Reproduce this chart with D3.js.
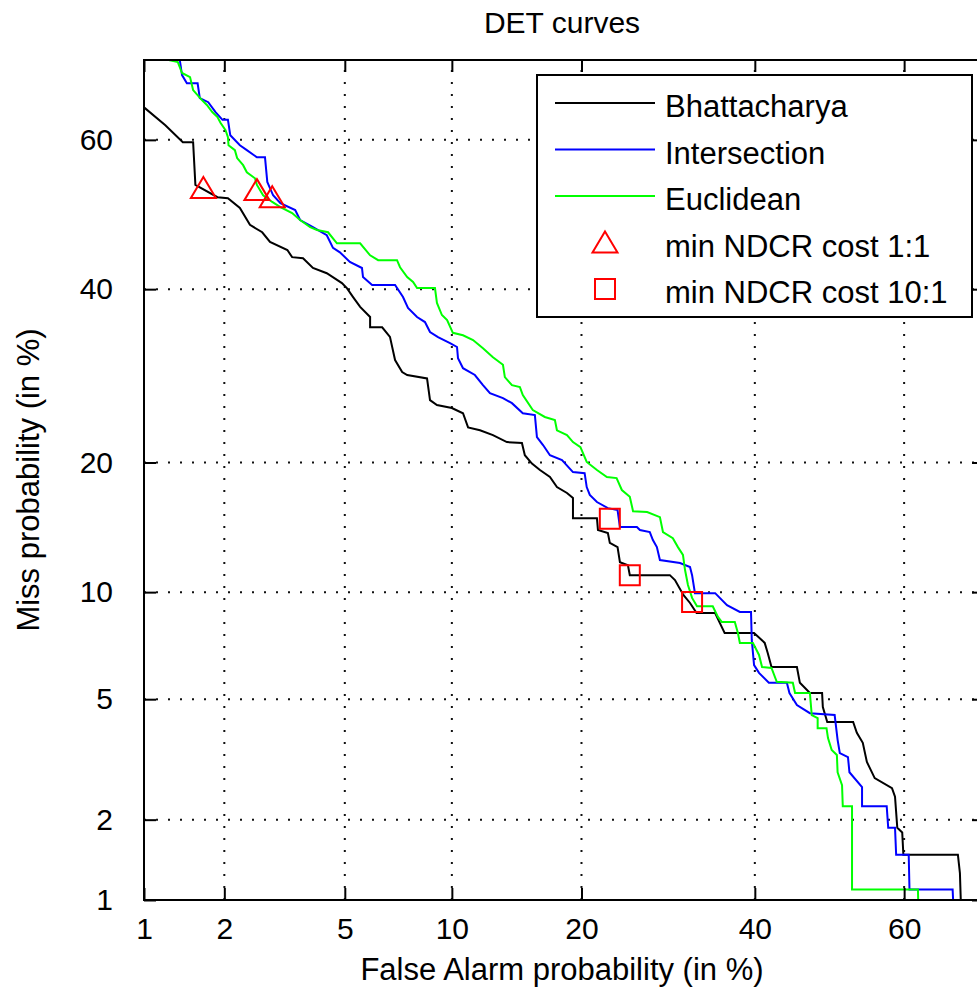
<!DOCTYPE html>
<html>
<head>
<meta charset="utf-8">
<script src="https://cdn.jsdelivr.net/npm/d3@7"></script>
<style>
  body { margin: 0; background: #fff; }
  svg { display: block; font-family: "Liberation Sans", Arial, sans-serif; }
</style>
</head>
<body>
<svg id="chart" width="977" height="992"></svg>
<script>
// Axis ticks (in %)
const xTicks = [1, 2, 5, 10, 20, 40, 60]
const yTicks = [1, 2, 5, 10, 20, 40, 60]
const axisRange = [1, 70]

// DET curves: [false alarm %, miss %]
const bhattacharya = [
  [1.00, 64.2], [1.21, 61.9], [1.41, 59.7], [1.54, 59.7], [1.57, 54.0], [1.89, 52.35], [2.06, 52.2],
  [2.27, 50.9], [2.46, 48.6], [2.71, 47.6], [2.88, 46.3], [3.29, 45.2], [3.41, 44.25], [3.70, 44.1],
  [3.98, 42.8], [4.40, 42.1], [4.90, 40.8], [5.08, 40.1], [5.29, 39.0], [5.56, 37.7], [5.95, 36.4],
  [5.95, 35.1], [6.45, 35.1], [6.79, 33.9], [7.02, 31.07], [7.35, 29.65], [7.59, 29.3], [8.60, 28.9],
  [8.76, 26.44], [9.14, 25.9], [10.0, 25.57], [10.68, 25.0], [11.0, 23.5], [11.78, 23.2], [12.67, 22.7],
  [13.68, 22.0], [14.83, 21.9], [15.06, 20.7], [15.63, 19.9], [16.29, 19.3], [17.14, 18.65], [17.75, 17.75],
  [18.65, 17.23], [19.2, 16.8], [19.2, 15.14], [21.5, 15.14], [21.6, 14.21], [22.6, 13.98], [22.8, 13.25],
  [23.6, 12.95], [23.85, 11.9], [24.7, 11.7], [24.9, 11.05], [29.4, 11.05], [30.0, 10.74], [31.0, 9.83],
  [31.8, 9.37], [32.6, 8.81], [34.9, 8.81], [35.5, 8.28], [36.1, 7.78], [39.9, 7.78], [41.3, 7.30],
  [41.7, 6.84], [42.2, 6.23], [45.6, 6.23], [46.0, 5.60], [47.35, 5.22], [49.0, 5.22], [49.1, 4.73],
  [49.7, 4.25], [53.2, 4.25], [53.7, 3.93], [54.5, 3.65], [55.05, 3.16], [56.1, 2.79], [58.4, 2.58],
  [58.8, 2.41], [59.1, 1.87], [59.75, 1.80], [59.9, 1.49], [66.85, 1.49], [67.1, 1.27], [67.3, 0.8]
]

const intersection = [
  [1.37, 72], [1.37, 70.2], [1.40, 68.2], [1.46, 67.2], [1.60, 67.2], [1.63, 65.35], [1.75, 64.85],
  [1.86, 63.6], [1.97, 62.6], [2.06, 62.6], [2.10, 60.6], [2.27, 59.3], [2.40, 58.65], [2.60, 57.7],
  [2.77, 57.7], [2.82, 54.4], [2.95, 52.6], [3.12, 51.55], [3.49, 50.6], [3.62, 49.25], [3.98, 48.3],
  [4.40, 47.2], [4.60, 45.5], [4.83, 44.9], [5.18, 43.6], [5.63, 42.8], [5.67, 41.6], [6.03, 40.55],
  [7.02, 40.55], [7.39, 38.97], [7.63, 37.55], [8.08, 36.4], [8.49, 35.76], [8.76, 34.5], [9.20, 33.87],
  [9.89, 33.13], [10.31, 32.65], [10.37, 31.3], [10.68, 30.1], [11.44, 29.3], [11.98, 28.13], [12.46, 27.22],
  [13.39, 26.66], [14.06, 26.1], [14.9, 25.0], [15.87, 24.8], [16.04, 22.5], [16.55, 21.7], [17.14, 20.7],
  [18.2, 20.23], [19.2, 19.1], [20.3, 19.0], [20.5, 17.75], [20.8, 17.06], [21.5, 16.46], [22.6, 15.95],
  [23.6, 15.79], [23.85, 14.44], [25.67, 14.44], [26.0, 14.21], [27.1, 14.06], [27.45, 13.46], [27.9, 12.95],
  [28.25, 12.05], [30.6, 11.85], [31.8, 11.58], [32.05, 11.05], [32.4, 9.94], [34.9, 9.94], [36.4, 9.25],
  [38.05, 8.87], [39.5, 8.87], [39.6, 7.44], [39.9, 6.31], [40.55, 5.99], [41.85, 5.60], [44.25, 5.60],
  [44.6, 5.22], [45.6, 4.80], [47.35, 4.53], [50.7, 4.47], [51.1, 3.73], [51.4, 3.38], [52.5, 3.28],
  [52.7, 2.92], [54.4, 2.6], [54.4, 2.23], [57.7, 2.23], [57.9, 1.87], [58.8, 1.87], [58.95, 1.49],
  [60.6, 1.49], [60.7, 1.10], [66.2, 1.10], [66.4, 0.8]
]

const euclidean = [
  [1.20, 72], [1.24, 70.0], [1.35, 69.75], [1.40, 68.45], [1.50, 67.95], [1.54, 66.36], [1.66, 65.1],
  [1.73, 64.5], [1.81, 63.6], [1.89, 62.95], [1.94, 62.2], [2.02, 61.27], [2.06, 60.35], [2.07, 59.3],
  [2.18, 58.65], [2.22, 57.6], [2.33, 56.65], [2.40, 55.7], [2.56, 54.9], [2.60, 54.0], [2.73, 52.6],
  [2.93, 51.7], [3.12, 51.0], [3.41, 50.2], [3.62, 49.25], [3.90, 48.3], [4.10, 47.9], [4.44, 47.6],
  [4.73, 46.1], [5.56, 46.1], [5.95, 44.5], [6.28, 43.85], [7.11, 43.85], [7.25, 42.9], [7.59, 41.6],
  [7.88, 40.95], [8.08, 40.15], [9.03, 40.15], [9.14, 38.2], [9.42, 36.65], [9.72, 36.0], [10.06, 34.4],
  [10.68, 34.1], [11.32, 33.5], [11.98, 32.5], [12.67, 31.4], [13.39, 30.5], [13.53, 29.05], [14.06, 28.13],
  [14.67, 27.9], [14.9, 27.0], [15.7, 25.35], [16.7, 24.6], [17.57, 24.27], [17.75, 23.2], [18.65, 22.7],
  [19.2, 22.0], [19.9, 21.5], [20.5, 20.05], [21.5, 19.29], [22.5, 18.65], [23.5, 18.55], [24.05, 17.49],
  [24.9, 16.9], [25.25, 15.7], [26.8, 15.63], [28.25, 15.22], [28.6, 14.06], [29.75, 13.6], [30.35, 12.95],
  [30.95, 12.4], [31.2, 11.38], [31.55, 10.43], [32.05, 9.66], [32.65, 9.18], [34.6, 9.18], [35.25, 8.6],
  [35.75, 8.33], [37.4, 8.33], [37.8, 7.78], [38.05, 7.30], [39.75, 7.30], [40.55, 6.75], [40.95, 6.23],
  [42.2, 6.19], [42.9, 5.64], [45.05, 5.60], [45.35, 5.22], [47.35, 5.22], [47.6, 4.47], [48.4, 4.37],
  [48.4, 4.06], [49.6, 4.06], [49.8, 3.78], [50.3, 3.46], [51.0, 3.33], [51.1, 2.92], [51.7, 2.64],
  [51.8, 2.23], [53.05, 2.23], [53.05, 1.10], [61.8, 1.10], [61.9, 0.8]
]

// min NDCR operating points
const minCost11 = [[1.68, 53.6], [2.60, 53.3], [2.93, 52.35]]
const minCost101 = [[22.8, 15.1], [24.9, 11.05], [32.05, 9.43]]

const seriesNames = ["Bhattacharya", "Intersection", "Euclidean"]
const seriesColors = ["#000000", "#0000ff", "#00ff00"]
const markerNames = ["min NDCR cost 1:1", "min NDCR cost 10:1"]

// inverse normal CDF (Acklam)
function probit(p) {
  const a = [-3.969683028665376e+01, 2.209460984245205e+02, -2.759285104469687e+02, 1.383577518672690e+02, -3.066479806614716e+01, 2.506628277459239e+00]
  const b = [-5.447609879822406e+01, 1.615858368580409e+02, -1.556989798598866e+02, 6.680131188771972e+01, -1.328068155288572e+01]
  const c = [-7.784894002430293e-03, -3.223964580411365e-01, -2.400758277161838e+00, -2.549732539343734e+00, 4.374664141464968e+00, 2.938163982698783e+00]
  const d = [7.784695709041462e-03, 3.224671290700398e-01, 2.445134137142996e+00, 3.754408661907416e+00]
  const pl = 0.02425
  if (p < pl) {
    const q = Math.sqrt(-2 * Math.log(p))
    return (((((c[0]*q+c[1])*q+c[2])*q+c[3])*q+c[4])*q+c[5]) / ((((d[0]*q+d[1])*q+d[2])*q+d[3])*q+1)
  }
  if (p > 1 - pl) {
    const q = Math.sqrt(-2 * Math.log(1 - p))
    return -(((((c[0]*q+c[1])*q+c[2])*q+c[3])*q+c[4])*q+c[5]) / ((((d[0]*q+d[1])*q+d[2])*q+d[3])*q+1)
  }
  const q = p - 0.5, r = q * q
  return (((((a[0]*r+a[1])*r+a[2])*r+a[3])*r+a[4])*r+a[5])*q / (((((b[0]*r+b[1])*r+b[2])*r+b[3])*r+b[4])*r+1)
}

// Layout
const PLOT = { left: 144, top: 60, size: 840 }
PLOT.right = PLOT.left + PLOT.size
PLOT.bottom = PLOT.top + PLOT.size
const FONT = 30
const LABEL_FONT = 31

const svg = d3.select("#chart")

const xScale = d3.scaleLinear()
  .domain(axisRange.map(v => probit(v / 100)))
  .range([PLOT.left, PLOT.right])
const yScale = d3.scaleLinear()
  .domain(axisRange.map(v => probit(v / 100)))
  .range([PLOT.bottom, PLOT.top])
const X = v => xScale(probit(v / 100))
const Y = v => yScale(probit(v / 100))

svg.append("rect").attr("width", 977).attr("height", 992).attr("fill", "#fff")

svg.append("defs").append("clipPath").attr("id", "clip")
  .append("rect").attr("x", PLOT.left).attr("y", PLOT.top).attr("width", PLOT.size).attr("height", PLOT.size)

// Grid (dotted)
const grid = svg.append("g")
  .attr("stroke", "#111")
  .attr("stroke-width", 2)
  .attr("stroke-dasharray", "2 10")
grid.selectAll(".gx")
  .data(xTicks.slice(1))
  .join("line")
    .attr("class", "gx")
    .attr("x1", d => X(d)).attr("x2", d => X(d))
    .attr("y1", PLOT.bottom).attr("y2", PLOT.top)
grid.selectAll(".gy")
  .data(yTicks.slice(1))
  .join("line")
    .attr("class", "gy")
    .attr("y1", d => Y(d)).attr("y2", d => Y(d))
    .attr("x1", PLOT.left).attr("x2", PLOT.right)

// Curves
const line = d3.line().x(d => X(d[0])).y(d => Y(d[1]))
const curves = svg.append("g").attr("clip-path", "url(#clip)")
curves.selectAll("path")
  .data([bhattacharya, intersection, euclidean])
  .join("path")
    .attr("fill", "none")
    .attr("stroke", (d, i) => seriesColors[i])
    .attr("stroke-width", 2)
    .attr("d", line)

// Markers
const triPath = "M0,-11L12.5,10L-12.5,10Z"
const sqPath = "M-10,-10H10V10H-10Z"
const marks = svg.append("g").attr("fill", "none").attr("stroke", "#ff0000").attr("stroke-width", 2)
marks.selectAll(".tri")
  .data(minCost11)
  .join("path")
    .attr("class", "tri")
    .attr("d", triPath)
    .attr("transform", d => `translate(${X(d[0])},${Y(d[1])})`)
marks.selectAll(".sq")
  .data(minCost101)
  .join("path")
    .attr("class", "sq")
    .attr("d", sqPath)
    .attr("transform", d => `translate(${X(d[0])},${Y(d[1])})`)

// Axes
const styleAxis = g => {
  g.attr("font-family", null).attr("font-size", null)
  g.select(".domain").remove()
  g.selectAll(".tick line").attr("stroke", "#000").attr("stroke-width", 2)
  g.selectAll(".tick text").attr("fill", "#000").style("font-size", FONT + "px")
}
const xTickVals = xTicks.map(t => probit(t / 100))
const yTickVals = yTicks.map(t => probit(t / 100))

svg.append("g")
  .attr("transform", `translate(0,${PLOT.bottom})`)
  .call(d3.axisBottom(xScale).tickValues(xTickVals).tickFormat((d, i) => xTicks[i])
    .tickSizeInner(-12).tickSizeOuter(0).tickPadding(18))
  .call(styleAxis)
svg.append("g")
  .attr("transform", `translate(0,${PLOT.top})`)
  .call(d3.axisTop(xScale).tickValues(xTickVals).tickFormat("")
    .tickSizeInner(-12).tickSizeOuter(0))
  .call(styleAxis)
svg.append("g")
  .attr("transform", `translate(${PLOT.left},0)`)
  .call(d3.axisLeft(yScale).tickValues(yTickVals).tickFormat((d, i) => yTicks[i])
    .tickSizeInner(-12).tickSizeOuter(0).tickPadding(31))
  .call(styleAxis)
svg.append("g")
  .attr("transform", `translate(${PLOT.right},0)`)
  .call(d3.axisRight(yScale).tickValues(yTickVals).tickFormat("")
    .tickSizeInner(-12).tickSizeOuter(0))
  .call(styleAxis)

svg.append("rect")
  .attr("x", PLOT.left).attr("y", PLOT.top).attr("width", PLOT.size).attr("height", PLOT.size)
  .attr("fill", "none").attr("stroke", "#000").attr("stroke-width", 2)

// Titles
svg.append("text")
  .attr("x", 562).attr("y", 33)
  .attr("text-anchor", "middle").style("font-size", FONT + "px")
  .text("DET curves")
svg.append("text")
  .attr("x", 562).attr("y", 980)
  .attr("text-anchor", "middle").style("font-size", LABEL_FONT + "px")
  .text("False Alarm probability (in %)")
svg.append("text")
  .attr("transform", `translate(39,${(PLOT.top + PLOT.bottom) / 2}) rotate(-90)`)
  .attr("text-anchor", "middle").style("font-size", LABEL_FONT + "px")
  .text("Miss probability (in %)")

// Legend
const legend = svg.append("g")
legend.append("rect")
  .attr("x", 537).attr("y", 75).attr("width", 435).attr("height", 242)
  .attr("fill", "#fff").attr("stroke", "#000").attr("stroke-width", 2)
const rowY = i => 103 + i * 46.5
seriesNames.forEach((name, i) => {
  legend.append("line")
    .attr("x1", 555).attr("x2", 655).attr("y1", rowY(i)).attr("y2", rowY(i))
    .attr("stroke", seriesColors[i]).attr("stroke-width", 2)
})
legend.append("path").attr("d", triPath)
  .attr("transform", `translate(605,${rowY(3)})`)
  .attr("fill", "none").attr("stroke", "#ff0000").attr("stroke-width", 2)
legend.append("path").attr("d", sqPath)
  .attr("transform", `translate(605,${rowY(4)})`)
  .attr("fill", "none").attr("stroke", "#ff0000").attr("stroke-width", 2)
seriesNames.concat(markerNames).forEach((name, i) => {
  legend.append("text")
    .attr("x", 665).attr("y", rowY(i) + 14)
    .style("font-size", LABEL_FONT + "px")
    .text(name)
})
</script>
</body>
</html>
